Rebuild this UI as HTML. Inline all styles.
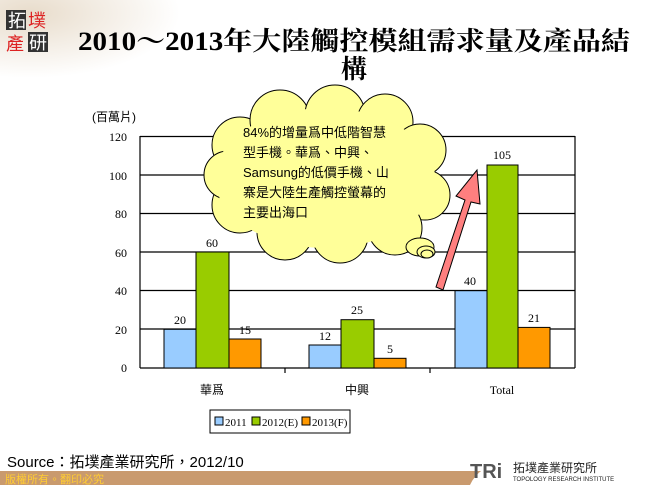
<!DOCTYPE html>
<html><head><meta charset="utf-8"><style>
body{margin:0;width:650px;height:485px;overflow:hidden;background:#fff;position:relative;font-family:"Liberation Serif","Noto Serif CJK SC",serif}
</style></head><body>
<svg width="650" height="485" style="position:absolute;left:0;top:0">
<defs><radialGradient id="g" cx="0.1" cy="0.1" r="0.5"><stop offset="0" stop-color="#e8dccb"/><stop offset="1" stop-color="#fff"/></radialGradient></defs>
<rect x="0" y="0" width="300" height="130" fill="url(#g)"/>
<rect x="6" y="10" width="20" height="20" fill="#333"/><text x="8" y="27" font-size="18" fill="#fff" font-family="Noto Sans CJK TC,sans-serif">拓</text>
<text x="28" y="27" font-size="18" fill="#d22" font-family="Noto Sans CJK TC,sans-serif">墣</text>
<text x="6" y="50" font-size="18" fill="#d22" font-family="Noto Sans CJK TC,sans-serif">產</text>
<rect x="28" y="32" width="20" height="20" fill="#333"/><text x="29" y="49" font-size="18" fill="#fff" font-family="Noto Sans CJK TC,sans-serif">研</text>
<text x="78" y="50" font-size="26" font-weight="bold" textLength="552" lengthAdjust="spacingAndGlyphs" font-family="Liberation Serif,Noto Serif CJK SC,serif">2010～2013年大陸觸控模組需求量及產品結</text>
<text x="354" y="78" font-size="26" font-weight="bold" text-anchor="middle" font-family="Liberation Serif,Noto Serif CJK SC,serif">構</text>
<g stroke="#000" stroke-width="1.2">
<line x1="140" y1="136.5" x2="575" y2="136.5"/><line x1="140" y1="175" x2="575" y2="175"/><line x1="140" y1="213.5" x2="575" y2="213.5"/><line x1="140" y1="252" x2="575" y2="252"/><line x1="140" y1="290.5" x2="575" y2="290.5"/><line x1="140" y1="329" x2="575" y2="329"/>
<line x1="140" y1="136" x2="140" y2="368"/><line x1="575" y1="136" x2="575" y2="368"/><line x1="140" y1="368" x2="575" y2="368"/>
<line x1="285" y1="368" x2="285" y2="373"/><line x1="430" y1="368" x2="430" y2="373"/>
</g>
<g font-size="12" text-anchor="end"><text x="127" y="141">120</text><text x="127" y="180">100</text><text x="127" y="218">80</text><text x="127" y="257">60</text><text x="127" y="295">40</text><text x="127" y="334">20</text><text x="127" y="372">0</text></g>
<text x="92" y="121" font-size="12" font-family="Liberation Sans,Noto Sans CJK TC,sans-serif">(百萬片)</text>
<g stroke="#000" stroke-width="1">
<rect x="164" y="329.3" width="32" height="38.7" fill="#99ccff"/><rect x="196" y="252" width="33" height="116" fill="#99cc00"/><rect x="229" y="339" width="32" height="29" fill="#ff9900"/>
<rect x="309" y="345" width="32" height="23" fill="#99ccff"/><rect x="341" y="319.7" width="33" height="48.3" fill="#99cc00"/><rect x="374" y="358.3" width="32" height="9.7" fill="#ff9900"/>
<rect x="455" y="290.7" width="32" height="77.3" fill="#99ccff"/><rect x="487" y="165" width="31" height="203" fill="#99cc00"/><rect x="518" y="327.4" width="32" height="40.6" fill="#ff9900"/>
</g>
<g font-size="12" text-anchor="middle"><text x="180" y="324">20</text><text x="212" y="247">60</text><text x="245" y="334">15</text><text x="325" y="340">12</text><text x="357" y="314">25</text><text x="390" y="353">5</text><text x="470" y="285">40</text><text x="502" y="159">105</text><text x="534" y="322">21</text>
<text x="212" y="394" font-family="Liberation Sans,Noto Sans CJK TC,sans-serif">華爲</text><text x="357" y="394" font-family="Liberation Sans,Noto Sans CJK TC,sans-serif">中興</text><text x="502" y="394">Total</text></g>
<polygon points="436,287 465,200 456,196 477,170 480,204 471,202 443,290" fill="#ff7f7f" stroke="#000"/>
<g fill="#ffff99" stroke="#000">
<circle cx="240" cy="145" r="28"/><circle cx="280" cy="120" r="30"/><circle cx="335" cy="115" r="30"/><circle cx="385" cy="122" r="28"/><circle cx="420" cy="150" r="26"/><circle cx="425" cy="195" r="25"/><circle cx="395" cy="228" r="27"/><circle cx="340" cy="235" r="28"/><circle cx="285" cy="232" r="28"/><circle cx="240" cy="205" r="28"/><circle cx="228" cy="175" r="24"/>
<ellipse cx="420" cy="247" rx="14" ry="9"/><ellipse cx="426" cy="252" rx="9" ry="6"/><ellipse cx="427" cy="254" rx="6" ry="4"/>
</g>
<ellipse cx="325" cy="178" rx="110" ry="70" fill="#ffff99"/>
<g font-size="13" font-family="Liberation Sans,Noto Sans CJK TC,sans-serif"><text x="243" y="137">84%的增量爲中低階智慧</text><text x="243" y="157">型手機。華爲、中興、</text><text x="243" y="177">Samsung的低價手機、山</text><text x="243" y="197">寨是大陸生產觸控螢幕的</text><text x="243" y="217">主要出海口</text></g>
<rect x="210" y="410" width="140" height="23" fill="#fff" stroke="#000"/>
<g font-size="11"><rect x="215" y="417" width="8" height="8" fill="#99ccff" stroke="#000"/><text x="225" y="426">2011</text>
<rect x="252" y="417" width="8" height="8" fill="#99cc00" stroke="#000"/><text x="262" y="426">2012(E)</text>
<rect x="302" y="417" width="8" height="8" fill="#ff9900" stroke="#000"/><text x="312" y="426">2013(F)</text></g>
<text x="7" y="467" font-size="15" font-family="Liberation Sans,Noto Sans CJK TC,sans-serif">Source：拓墣產業研究所，2012/10</text>
<rect x="0" y="471" width="650" height="14" fill="#c99a6e"/>
<text x="5" y="483" font-size="11" fill="#ffcc33" font-family="Liberation Sans,Noto Sans CJK TC,sans-serif">版權所有。翻印必究</text>
<path d="M470,485 Q480,462 520,458 L650,458 L650,485 Z" fill="#fff"/>
<text x="470" y="478" font-size="20" font-weight="bold" fill="#555" font-family="Liberation Sans,sans-serif">TRi</text>
<text x="513" y="472" font-size="12" fill="#222" font-family="Noto Sans CJK TC,sans-serif">拓墣產業研究所</text>
<text x="513" y="481" font-size="6" fill="#222" font-family="Liberation Sans,sans-serif">TOPOLOGY RESEARCH INSTITUTE</text>
</svg>
</body></html>
